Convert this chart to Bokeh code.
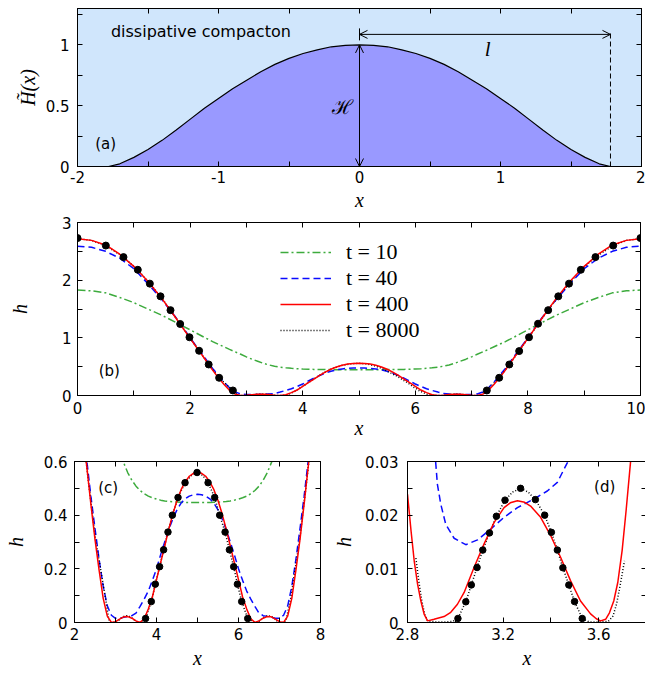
from bokeh.plotting import figure
from bokeh.layouts import column, row
from bokeh.models import (Range1d, FixedTicker, LinearAxis, Legend, LegendItem,
                          Arrow, OpenHead, TeeHead, Label)
from bokeh.embed import file_html
from bokeh.resources import INLINE

# ---------------- panel (a): compacton profile ----------------
A_X = [-2.0, -1.9, -1.78, -1.7, -1.6, -1.5, -1.4, -1.3, -1.2, -1.1, -1.0, -0.9, -0.8,
       -0.7, -0.6, -0.5, -0.4, -0.3, -0.2, -0.1, 0.0, 0.1, 0.2, 0.3, 0.4, 0.5, 0.6,
       0.7, 0.8, 0.9, 1.0, 1.1, 1.2, 1.3, 1.4, 1.5, 1.6, 1.7, 1.78, 1.9, 2.0]
A_H = [0.0, 0.0, 0.0, 0.022, 0.075, 0.14, 0.215, 0.30, 0.39, 0.48, 0.56, 0.64, 0.71,
       0.78, 0.84, 0.89, 0.93, 0.96, 0.985, 0.996, 1.0, 0.996, 0.985, 0.96, 0.93, 0.89, 0.84,
       0.78, 0.71, 0.64, 0.56, 0.48, 0.39, 0.30, 0.215, 0.14, 0.075, 0.022, 0.0, 0.0, 0.0]
COMPACTON_L = 1.78      # half width l
COMPACTON_H = 1.0       # amplitude H
L_ARROW_LEVEL = 1.087

# ---------------- panels (b),(c): h(x) at several times ----------------
X_FULL = [0.0, 0.25, 0.5, 0.75, 1.0, 1.25, 1.5, 1.75, 2.0, 2.25, 2.4,
          2.5, 2.6, 2.7, 2.8, 2.9, 3.0, 3.1, 3.2, 3.3, 3.4, 3.5, 3.6, 3.7, 3.8, 3.9,
          4.0, 4.1, 4.2, 4.3, 4.4, 4.5, 4.6, 4.7, 4.8, 4.9, 5.0,
          5.1, 5.2, 5.3, 5.4, 5.5, 5.6, 5.7, 5.8, 5.9, 6.0,
          6.1, 6.2, 6.3, 6.4, 6.5, 6.6, 6.7, 6.8, 6.9, 7.0,
          7.1, 7.2, 7.3, 7.4, 7.5, 7.6, 7.75, 8.0, 8.25, 8.5, 8.75, 9.0, 9.25, 9.5, 9.75, 10.0]
H_T10 = [1.83, 1.815, 1.78, 1.70, 1.61, 1.50, 1.39, 1.265, 1.14, 1.01, 0.935,
         0.89, 0.845, 0.80, 0.757, 0.715, 0.67, 0.63, 0.595, 0.558, 0.53, 0.508, 0.492, 0.48, 0.471, 0.465,
         0.46, 0.456, 0.453, 0.451, 0.45, 0.449, 0.448, 0.447, 0.447, 0.447, 0.447,
         0.447, 0.447, 0.447, 0.448, 0.449, 0.45, 0.451, 0.453, 0.456, 0.46,
         0.465, 0.471, 0.48, 0.492, 0.508, 0.53, 0.558, 0.595, 0.63, 0.67,
         0.715, 0.757, 0.80, 0.845, 0.89, 0.935, 1.01, 1.14, 1.265, 1.39, 1.50, 1.61, 1.70, 1.78, 1.815, 1.83]
H_T40 = [2.59, 2.57, 2.50, 2.38, 2.20, 1.94, 1.66, 1.35, 1.00, 0.67, 0.47,
         0.35, 0.235, 0.135, 0.062, 0.027, 0.0155, 0.0156, 0.0195, 0.0228, 0.0255, 0.035, 0.06, 0.087, 0.117, 0.157,
         0.20, 0.252, 0.30, 0.347, 0.387, 0.42, 0.445, 0.461, 0.471, 0.476, 0.478,
         0.476, 0.471, 0.461, 0.445, 0.42, 0.387, 0.347, 0.30, 0.252, 0.20,
         0.157, 0.117, 0.087, 0.06, 0.035, 0.0255, 0.0228, 0.0195, 0.0156, 0.0155,
         0.027, 0.062, 0.135, 0.235, 0.35, 0.47, 0.67, 1.00, 1.35, 1.66, 1.94, 2.20, 2.38, 2.50, 2.57, 2.59]
H_T400 = [2.72, 2.69, 2.61, 2.45, 2.24, 1.98, 1.68, 1.34, 0.99, 0.65, 0.44,
          0.31, 0.195, 0.09, 0.024, 0.0005, 0.003, 0.0125, 0.021, 0.022, 0.016, 0.006, 0.0004, 0.014, 0.05, 0.095,
          0.16, 0.222, 0.285, 0.348, 0.405, 0.455, 0.495, 0.524, 0.545, 0.556, 0.56,
          0.556, 0.545, 0.524, 0.495, 0.455, 0.405, 0.348, 0.285, 0.222, 0.16,
          0.095, 0.05, 0.014, 0.0004, 0.006, 0.016, 0.022, 0.021, 0.0125, 0.003,
          0.0005, 0.024, 0.09, 0.195, 0.31, 0.44, 0.65, 0.99, 1.34, 1.68, 1.98, 2.24, 2.45, 2.61, 2.69, 2.72]
X_T8000 = [0.0, 0.25, 0.503, 0.817, 1.071, 1.285, 1.474, 1.652, 1.824, 1.989,
           2.16, 2.33, 2.516, 2.76, 2.835, 2.884, 2.95, 3.011, 3.067, 3.115,
           3.172, 3.208, 3.273, 3.335, 3.374, 3.427, 3.475, 3.531, 3.6, 3.66,
           3.708, 3.734, 3.873, 3.971, 4.076, 4.174, 4.28, 4.386, 4.525, 4.696,
           4.85, 4.989, 5.13, 5.258, 5.419, 5.541, 5.673, 5.778, 5.883, 5.973,
           6.078, 6.225, 6.29, 6.34, 6.4, 6.469, 6.525, 6.573, 6.626, 6.665,
           6.727, 6.792, 6.828, 6.885, 6.933, 6.989, 7.05, 7.116, 7.165, 7.27,
           7.49, 7.67, 7.845, 8.02, 8.18, 8.36, 8.54, 8.73, 8.94, 9.20,
           9.515, 9.75, 10.0]
H_T8000 = [2.72, 2.69, 2.60, 2.40, 2.18, 1.94, 1.72, 1.48, 1.24, 1.01,
           0.776, 0.538, 0.307, 0.087, 0.012, 0.0003, 0.0001, 0.00075, 0.007, 0.0135,
           0.0198, 0.0228, 0.025, 0.0229, 0.020, 0.0135, 0.007, 0.00075, 0.0001, 0.0012,
           0.0115, 0.015, 0.078, 0.143, 0.208, 0.271, 0.337, 0.40, 0.466, 0.521,
           0.548, 0.559, 0.548, 0.521, 0.466, 0.40, 0.337, 0.271, 0.208, 0.143,
           0.078, 0.015, 0.0115, 0.0012, 0.0001, 0.00075, 0.007, 0.0135, 0.020, 0.0229,
           0.025, 0.0228, 0.0198, 0.0135, 0.007, 0.00075, 0.0001, 0.0003, 0.012, 0.087,
           0.307, 0.538, 0.776, 1.01, 1.24, 1.48, 1.72, 1.94, 2.18, 2.40,
           2.60, 2.69, 2.72]
DOTS_B_X = [0.0, 0.503, 0.817, 1.071, 1.285, 1.474, 1.652, 1.824, 1.989, 2.16, 2.33, 2.516, 2.76,
            7.27, 7.49, 7.67, 7.845, 8.02, 8.18, 8.36, 8.54, 8.73, 8.94, 9.20, 9.515, 10.0]
DOTS_B_H = [2.73, 2.60, 2.40, 2.18, 1.94, 1.72, 1.48, 1.24, 1.01, 0.776, 0.538, 0.307, 0.087,
            0.087, 0.307, 0.538, 0.77, 1.01, 1.245, 1.48, 1.72, 1.94, 2.18, 2.40, 2.60, 2.73]
DOTS_C_X = [3.734, 3.873, 3.971, 4.076, 4.174, 4.28, 4.386, 4.525, 4.696, 4.989,
            5.258, 5.419, 5.541, 5.673, 5.778, 5.883, 5.973, 6.078, 6.225]
DOTS_C_H = [0.015, 0.078, 0.143, 0.208, 0.271, 0.337, 0.40, 0.466, 0.521, 0.559,
            0.521, 0.466, 0.40, 0.337, 0.271, 0.208, 0.143, 0.078, 0.015]

# ---------------- panel (d): close-up ----------------
D_X_T40 = [2.91, 2.918, 2.925, 2.939, 2.960, 2.995, 3.044, 3.093, 3.148, 3.204, 3.26, 3.329,
           3.385, 3.427, 3.469, 3.48]
D_H_T40 = [0.034, 0.0298, 0.0258, 0.0221, 0.0183, 0.0157, 0.0145, 0.0154, 0.0174, 0.0196, 0.0214,
           0.0230, 0.0245, 0.0261, 0.0298, 0.0315]
D_X_T400 = [2.80, 2.815, 2.828, 2.842, 2.856, 2.87, 2.884, 2.911, 2.953, 2.981,
            3.009, 3.037, 3.078, 3.12, 3.162, 3.204, 3.23, 3.26, 3.29, 3.315,
            3.357, 3.399, 3.441, 3.482, 3.524, 3.566, 3.59, 3.608, 3.629, 3.645,
            3.663, 3.68, 3.698, 3.715, 3.733, 3.75]
D_H_T400 = [0.0239, 0.017, 0.0115, 0.0072, 0.004, 0.0015, 0.0003, 0.0006, 0.0011, 0.0019,
            0.0034, 0.0056, 0.0102, 0.0146, 0.0186, 0.0214, 0.0223, 0.0227, 0.0224, 0.0217,
            0.0196, 0.0162, 0.0121, 0.0078, 0.0040, 0.0016, 0.0007, 0.0003, 0.0006, 0.0018,
            0.0040, 0.0075, 0.0134, 0.021, 0.0298, 0.040]
D_X_T8000 = [2.835, 2.848, 2.86, 2.872, 2.884, 2.92, 2.96, 2.99, 3.011, 3.044,
             3.067, 3.091, 3.115, 3.143, 3.172, 3.208, 3.24, 3.273, 3.305, 3.335,
             3.374, 3.402, 3.427, 3.450, 3.475, 3.499, 3.531, 3.56, 3.6, 3.64,
             3.66, 3.675, 3.69, 3.708]
D_H_T8000 = [0.0120, 0.0075, 0.0040, 0.0015, 0.0003, 0.0001, 0.0001, 0.0002, 0.00075, 0.00386,
             0.0070, 0.01025, 0.0135, 0.0167, 0.0198, 0.0228, 0.0243, 0.0250, 0.0243, 0.0229,
             0.0200, 0.0168, 0.0135, 0.0102, 0.0070, 0.0039, 0.00075, 0.0001, 0.0001, 0.0002,
             0.0012, 0.0035, 0.0070, 0.0115]
DOTS_D_X = [3.011, 3.044, 3.067, 3.091, 3.115, 3.143, 3.172, 3.208, 3.273, 3.335,
            3.374, 3.402, 3.427, 3.450, 3.475, 3.499, 3.531]
DOTS_D_H = [0.00075, 0.00386, 0.0070, 0.01025, 0.0135, 0.0167, 0.0198, 0.0228, 0.0250, 0.0229,
            0.0200, 0.0168, 0.0135, 0.0102, 0.0070, 0.0039, 0.00075]

LEGEND_LABELS = ["t = 10", "t = 40", "t = 400", "t = 8000"]

# tick positions and labels
A_XTICKS = [-2, -1.5, -1, -0.5, 0, 0.5, 1, 1.5, 2]
A_XLABELS = ["-2", "", "-1", "", "0", "", "1", "", "2"]
A_YTICKS = [0, 0.25, 0.5, 0.75, 1.0, 1.25]
A_YLABELS = ["0", "", "0.5", "", "1", ""]
B_XTICKS = [0, 1, 2, 3, 4, 5, 6, 7, 8, 9, 10]
B_XLABELS = ["0", "", "2", "", "4", "", "6", "", "8", "", "10"]
B_YTICKS = [0, 0.5, 1, 1.5, 2, 2.5, 3]
B_YLABELS = ["0", "", "1", "", "2", "", "3"]
C_XTICKS = [2, 3, 4, 5, 6, 7, 8]
C_XLABELS = ["2", "", "4", "", "6", "", "8"]
C_YTICKS = [0, 0.1, 0.2, 0.3, 0.4, 0.5, 0.6]
C_YLABELS = ["0", "", "0.2", "", "0.4", "", "0.6"]
D_XTICKS = [2.8, 3.0, 3.2, 3.4, 3.6, 3.8]
D_XLABELS = ["2.8", "", "3.2", "", "3.6", ""]
D_YTICKS = [0, 0.005, 0.01, 0.015, 0.02, 0.025, 0.03]
D_YLABELS = ["0", "", "0.01", "", "0.02", "", "0.03"]

GREEN = "#3dab3d"
BLUE = "#0a0aff"
RED = "#ff0000"
SANS = "DejaVu Sans"
SERIF = "Liberation Serif"
TICK_FS = "15px"
AXLAB_FS = "20px"
LW = 1.5


def style_axis(ax, ticks, labels, show, std=6):
    ax.ticker = FixedTicker(ticks=ticks, minor_ticks=[])
    ax.major_label_overrides = {t: (l if show else "") for t, l in zip(ticks, labels)}
    ax.major_tick_in = 5
    ax.major_tick_out = 0
    ax.minor_tick_in = 0
    ax.minor_tick_out = 0
    ax.axis_line_color = "black"
    ax.major_tick_line_color = "black"
    ax.major_label_text_color = "black"
    ax.major_label_text_font = SANS
    if show:
        ax.major_label_text_font_size = TICK_FS
        ax.major_label_standoff = std
    else:
        ax.major_label_text_font_size = "0px"
        ax.major_label_standoff = 0


def make_fig(xr, yr, fw, fh, bl, br, bt, bb, xt, xl, yt, yl, xlab, ylab,
             xstd=5, ystd=7, xlab_std=0, ylab_std=5):
    p = figure(x_range=Range1d(*xr), y_range=Range1d(*yr), frame_width=fw, frame_height=fh,
               min_border_left=bl, min_border_right=br, min_border_top=bt, min_border_bottom=bb,
               output_backend="svg", toolbar_location=None)
    p.xgrid.visible = False
    p.ygrid.visible = False
    p.outline_line_color = "black"
    p.outline_line_width = 1
    style_axis(p.xaxis[0], xt, xl, True, xstd)
    style_axis(p.yaxis[0], yt, yl, True, ystd)
    p.xaxis[0].axis_label = xlab
    p.yaxis[0].axis_label = ylab
    for ax, std in ((p.xaxis[0], xlab_std), (p.yaxis[0], ylab_std)):
        ax.axis_label_text_font = SERIF
        ax.axis_label_text_font_style = "italic"
        ax.axis_label_text_font_size = AXLAB_FS
        ax.axis_label_text_color = "black"
        ax.axis_label_standoff = std
    top = LinearAxis()
    style_axis(top, xt, xl, False)
    p.add_layout(top, "above")
    right = LinearAxis()
    style_axis(right, yt, yl, False)
    p.add_layout(right, "right")
    return p


def panel_label(p, x, y, text):
    p.add_layout(Label(x=x, y=y, text=text, text_font=SANS, text_font_size="15px",
                       text_color="black", text_align="center", text_baseline="middle"))


# ---------------- (a) ----------------
pa = make_fig((-2, 2), (0, 1.3), 564, 158, 77, 4, 8, 49,
              A_XTICKS, A_XLABELS, A_YTICKS, A_YLABELS, "x", "H\u0303(x)",
              xstd=4, ystd=8, xlab_std=3, ylab_std=4)
pa.background_fill_color = "#d0e6fc"
pa.varea(x=A_X, y1=[0.0] * len(A_X), y2=A_H, fill_color="#9999ff", fill_alpha=1.0)
pa.line(A_X, A_H, line_color="black", line_width=1.2)
pa.add_layout(Arrow(x_start=0, y_start=0, x_end=0, y_end=COMPACTON_H,
                    start=OpenHead(size=8, line_width=1), end=OpenHead(size=8, line_width=1),
                    line_width=1, line_color="black"))
pa.add_layout(Arrow(x_start=0, y_start=L_ARROW_LEVEL, x_end=COMPACTON_L, y_end=L_ARROW_LEVEL,
                    start=OpenHead(size=8, line_width=1), end=OpenHead(size=8, line_width=1),
                    line_width=1, line_color="black"))
pa.add_layout(Arrow(x_start=0.02, y_start=L_ARROW_LEVEL, x_end=0, y_end=L_ARROW_LEVEL,
                    end=TeeHead(size=12, line_width=1), line_width=1, line_color="black"))
pa.add_layout(Arrow(x_start=COMPACTON_L, y_start=0, x_end=COMPACTON_L, y_end=L_ARROW_LEVEL + 0.015,
                    end=None, line_width=1, line_color="black", line_dash="5 3"))
pa.add_layout(Label(x=-1.125, y=1.114, text="dissipative compacton", text_font=SANS,
                    text_font_size="16px", text_color="black", text_align="center",
                    text_baseline="middle"))
pa.add_layout(Label(x=-0.121, y=0.49, text="\u210b", text_font="DejaVu Serif",
                    text_font_size="20px", text_color="black", text_align="center",
                    text_baseline="middle"))
pa.add_layout(Label(x=0.909, y=0.963, text="l", text_font=SERIF, text_font_style="italic",
                    text_font_size="21px", text_color="black", text_align="center",
                    text_baseline="middle"))
panel_label(pa, -1.8, 0.183, "(a)")

# ---------------- (b) ----------------
pb = make_fig((0, 10), (0, 3), 563, 173, 74, 8, 7, 50,
              B_XTICKS, B_XLABELS, B_YTICKS, B_YLABELS, "x", "h",
              xstd=6, ystd=6, xlab_std=0, ylab_std=28)
rg = pb.line(X_FULL, H_T10, line_color=GREEN, line_width=LW, line_dash="8 3 2 3")
rbl = pb.line(X_FULL, H_T40, line_color=BLUE, line_width=LW, line_dash="7 4")
rk = pb.line(X_T8000, H_T8000, line_color="black", line_width=LW, line_dash="1 2")
rr = pb.line(X_FULL, H_T400, line_color=RED, line_width=LW)
pb.scatter(DOTS_B_X, DOTS_B_H, size=7, color="black")
panel_label(pb, 0.565, 0.42, "(b)")
legend = Legend(items=[LegendItem(label=LEGEND_LABELS[0], renderers=[rg]),
                       LegendItem(label=LEGEND_LABELS[1], renderers=[rbl]),
                       LegendItem(label=LEGEND_LABELS[2], renderers=[rr]),
                       LegendItem(label=LEGEND_LABELS[3], renderers=[rk])],
                location=(203, 52), glyph_width=51, glyph_height=20, label_height=20,
                label_standoff=15, spacing=0, padding=0, margin=0,
                border_line_alpha=0, background_fill_alpha=0,
                label_text_font=SERIF, label_text_font_size="22px", label_text_color="black")
pb.add_layout(legend)

# ---------------- (c) ----------------
pc = make_fig((2, 8), (0, 0.6), 246, 161, 74, 10, 16, 53,
              C_XTICKS, C_XLABELS, C_YTICKS, C_YLABELS, "x", "h",
              xstd=5, ystd=7, xlab_std=4, ylab_std=14)
pc.line(X_FULL, H_T10, line_color=GREEN, line_width=LW, line_dash="8 3 2 3")
pc.line(X_FULL, H_T40, line_color=BLUE, line_width=LW, line_dash="7 4")
pc.line(X_T8000, H_T8000, line_color="black", line_width=LW, line_dash="1 2")
pc.line(X_FULL, H_T400, line_color=RED, line_width=LW)
pc.scatter(DOTS_C_X, DOTS_C_H, size=6.5, color="black")
panel_label(pc, 2.82, 0.50, "(c)")

# ---------------- (d) ----------------
pd_ = make_fig((2.8, 3.8), (0, 0.03), 239, 161, 72, 4, 16, 53,
               D_XTICKS, D_XLABELS, D_YTICKS, D_YLABELS, "x", "h",
               xstd=5, ystd=9, xlab_std=4, ylab_std=7)
pd_.line(D_X_T40, D_H_T40, line_color=BLUE, line_width=LW, line_dash="7 4")
pd_.line(D_X_T8000, D_H_T8000, line_color="black", line_width=LW, line_dash="1 2")
pd_.line(D_X_T400, D_H_T400, line_color=RED, line_width=LW)
pd_.scatter(DOTS_D_X, DOTS_D_H, size=6.5, color="black")
panel_label(pd_, 3.625, 0.0253, "(d)")

layout = column(pa, pb, row(pc, pd_))
open("out.html", "w").write(file_html(layout, INLINE))
